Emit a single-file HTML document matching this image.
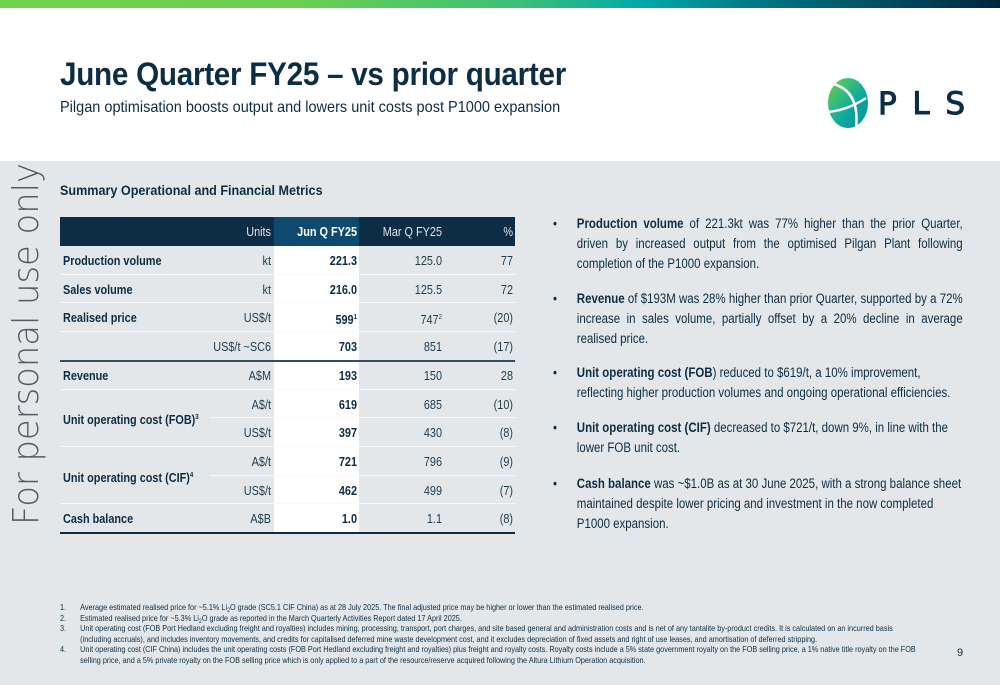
<!DOCTYPE html>
<html><head><meta charset="utf-8"><style>
*{margin:0;padding:0;box-sizing:border-box}
body{width:1000px;height:685px;overflow:hidden;background:#fff;font-family:"Liberation Sans",Arial,sans-serif;position:relative;color:#0c2d44}
.abs{position:absolute}
#topbar{left:0;top:0;width:1000px;height:8px;background:linear-gradient(90deg,#6fd34c 0%,#6acf50 30%,#3cbf78 52%,#00aaa8 64%,#007a88 75%,#00263e 100%)}
#grey{left:0;top:161px;width:1000px;height:524px;background:#e3e7ea}
h1{position:absolute;left:60px;top:56px;font-size:32px;font-weight:bold;color:#0c2d44;letter-spacing:-0.3px;transform:scaleX(0.927);transform-origin:left top;white-space:nowrap}
.sub{left:60px;top:99px;font-size:16px;color:#0c2d44;transform:scaleX(0.907);transform-origin:left top;white-space:nowrap}
.sec{left:60px;top:182px;font-size:14px;font-weight:bold;transform:scaleX(0.9);transform-origin:left top;white-space:nowrap}
.cell{position:absolute;font-size:12.5px;line-height:14px;white-space:nowrap;transform:scaleX(0.87);transform-origin:left top}
.r{text-align:right;transform-origin:right top}
.b{font-weight:bold}
.bulwrap{left:553px;top:211px;width:482px;transform:scaleX(0.85);transform-origin:left top;font-size:13.5px;line-height:20px;color:#0c2d44}
.ln{position:absolute;left:28px;width:454px;text-align:justify;text-align-last:justify;white-space:nowrap}
.ln.last{text-align-last:left}
.dot{position:absolute;left:0}
.fn{left:60px;top:602px;font-size:8.3px;line-height:10.5px;color:#0c2d44;width:1010px;transform:scaleX(0.877);transform-origin:left top}
.fn div{position:relative;padding-left:23px}
.fn div b{position:absolute;left:0;font-weight:normal}
.fn sub{font-size:6px;line-height:0;vertical-align:-2px}
</style></head><body>
<div class="abs" id="topbar"></div>
<div class="abs" id="grey"></div>
<h1>June Quarter FY25 – vs prior quarter</h1>
<div class="abs sub">Pilgan optimisation boosts output and lowers unit costs post P1000 expansion</div>

<svg class="abs" style="left:820px;top:72px" width="160" height="62">
<defs><linearGradient id="g" x1="0" y1="0" x2="1" y2="1"><stop offset="0" stop-color="#6fd34c"/><stop offset="0.6" stop-color="#0aa9a0"/><stop offset="1" stop-color="#0a8d9a"/></linearGradient></defs>
<ellipse cx="28" cy="31" rx="20" ry="25" fill="url(#g)"/>
<path d="M14 12 Q40 20 36 56" stroke="#fff" stroke-width="2.5" fill="none"/>
<path d="M8 40 Q28 38 46 26" stroke="#fff" stroke-width="2.5" fill="none"/>
<text x="58" y="42" font-family="DejaVu Sans, sans-serif" font-size="31" fill="#0c2d44" stroke="#0c2d44" stroke-width="1" textLength="87" lengthAdjust="spacing">PLS</text>
</svg>

<svg class="abs" style="left:0;top:155px" width="50" height="380">
<text transform="translate(38,370) rotate(-90)" font-family="DejaVu Sans, sans-serif" font-size="36" font-weight="300" fill="#555a60" textLength="362" lengthAdjust="spacingAndGlyphs">For personal use only</text>
</svg>

<div class="abs sec">Summary Operational and Financial Metrics</div>

<div>
<div class="abs" style="left:60px;top:217px;width:455px;height:29px;background:#0c2d44"></div>
<div class="abs" style="left:274px;top:217px;width:85px;height:29px;background:#0e4a70"></div>
<div class="abs" style="left:274px;top:246px;width:85px;height:287px;background:#fff"></div>
<div class="cell r" style="left:200px;top:225px;width:71px;color:#dfe6ec">Units</div>
<div class="cell r b" style="left:274px;top:225px;width:83px;color:#fff">Jun Q FY25</div>
<div class="cell r" style="left:360px;top:225px;width:82px;color:#dfe6ec">Mar Q FY25</div>
<div class="cell r" style="left:450px;top:225px;width:63px;color:#dfe6ec">%</div>
<div id="rows"></div>
<div class="abs" style="left:60px;top:532px;width:455px;height:2px;background:#0c2d44"></div>
</div>

<div class="abs bulwrap">
<div>
<span class="dot" style="top:3px">•</span>
<div class="ln" style="top:3px"><b>Production volume</b> of 221.3kt was 77% higher than the prior Quarter,</div>
<div class="ln" style="top:23px">driven by increased output from the optimised Pilgan Plant following</div>
<div class="ln last" style="top:43px">completion of the P1000 expansion.</div>
</div>
<div>
<span class="dot" style="top:78px">•</span>
<div class="ln" style="top:78px"><b>Revenue</b> of $193M was 28% higher than prior Quarter, supported by a 72%</div>
<div class="ln" style="top:98px">increase in sales volume, partially offset by a 20% decline in average</div>
<div class="ln last" style="top:118px">realised price.</div>
</div>
<div>
<span class="dot" style="top:152px">•</span>
<div class="ln last" style="top:152px"><b>Unit operating cost (FOB</b>) reduced to $619/t, a 10% improvement,</div>
<div class="ln last" style="top:172px">reflecting higher production volumes and ongoing operational efficiencies.</div>
</div>
<div>
<span class="dot" style="top:207px">•</span>
<div class="ln last" style="top:207px"><b>Unit operating cost (CIF)</b> decreased to $721/t, down 9%, in line with the</div>
<div class="ln last" style="top:227px">lower FOB unit cost.</div>
</div>
<div>
<span class="dot" style="top:263px">•</span>
<div class="ln last" style="top:263px"><b>Cash balance</b> was ~$1.0B as at 30 June 2025, with a strong balance sheet</div>
<div class="ln last" style="top:283px">maintained despite lower pricing and investment in the now completed</div>
<div class="ln last" style="top:303px">P1000 expansion.</div>
</div>
</div>

<div class="abs fn">
<div><b>1.</b>Average estimated realised price for ~5.1% Li<sub>2</sub>O grade (SC5.1 CIF China) as at 28 July 2025. The final adjusted price may be higher or lower than the estimated realised price.</div>
<div><b>2.</b>Estimated realised price for ~5.3% Li<sub>2</sub>O grade as reported in the March Quarterly Activities Report dated 17 April 2025.</div>
<div><b>3.</b>Unit operating cost (FOB Port Hedland excluding freight and royalties) includes mining, processing, transport, port charges, and site based general and administration costs and is net of any tantalite by-product credits. It is calculated on an incurred basis<br>(including accruals), and includes inventory movements, and credits for capitalised deferred mine waste development cost, and it excludes depreciation of fixed assets and right of use leases, and amortisation of deferred stripping.</div>
<div><b>4.</b>Unit operating cost (CIF China) includes the unit operating costs (FOB Port Hedland excluding freight and royalties) plus freight and royalty costs. Royalty costs include a 5% state government royalty on the FOB selling price, a 1% native title royalty on the FOB<br>selling price, and a 5% private royalty on the FOB selling price which is only applied to a part of the resource/reserve acquired following the Altura Lithium Operation acquisition.</div>
</div>
<div class="abs" style="left:957px;top:647px;font-size:11px">9</div>

<script>
const rowLabels=["Production volume","Sales volume","Realised price","","Revenue","","","","","Cash balance"];
const rowUnits=["kt","kt","US$/t","US$/t ~SC6","A$M","A$/t","US$/t","A$/t","US$/t","A$B"];
const junValues=["221.3","216.0","599<sup>1</sup>","703","193","619","397","721","462","1.0"];
const marValues=["125.0","125.5","747<sup>2</sup>","851","150","685","430","796","499","1.1"];
const pctValues=["77","72","(20)","(17)","28","(10)","(8)","(9)","(7)","(8)"];
const mergedLabels=[{text:"Unit operating cost (FOB)<sup>3</sup>",row:5},{text:"Unit operating cost (CIF)<sup>4</sup>",row:7}];
const rowsEl=document.getElementById('rows');
const top0=246,rh=28.7;
function mk(cls,l,t,w,html,st){const d=document.createElement('div');d.className='cell '+cls;d.style.left=l+'px';d.style.top=t+'px';d.style.width=w+'px';if(st)d.style.cssText+=st;d.innerHTML=html;rowsEl.appendChild(d);return d;}
rowLabels.forEach((lab,i)=>{
 const y=top0+i*rh, ty=y+8;
 if(i>0){const ln=document.createElement('div');ln.className='abs';
  const merged=(i==6||i==8);const dark=(i==4);
  ln.style.cssText='left:'+(merged?210:60)+'px;top:'+(y-1)+'px;width:'+(merged?305:455)+'px;height:'+(dark?2:1)+'px;background:'+(dark?'#2f4f66':'#f7f9fa');
  if(i==3){ln.style.left='60px';ln.style.width='455px';}
  
  
  rowsEl.appendChild(ln);}
 if(lab){const e=mk('b',63,ty,200,lab);
  
  }
 const u=mk('r',180,ty,91,rowUnits[i],'color:#1f3b50');
 
 
 const j=mk('r b',274,ty,83,junValues[i]);
 
 
 const m=mk('r',360,ty,82,marValues[i],'color:#1f3b50');
 
 
 const p=mk('r',450,ty,63,pctValues[i],'color:#1f3b50');
 
 
});
mergedLabels.forEach(m=>{const e=mk('b',63,top0+m.row*rh+rh-7,200,m.text);
 
 });
document.querySelectorAll('sup').forEach(s=>{s.style.fontSize='7px';s.style.verticalAlign='5px';});
</script>
</body></html>
